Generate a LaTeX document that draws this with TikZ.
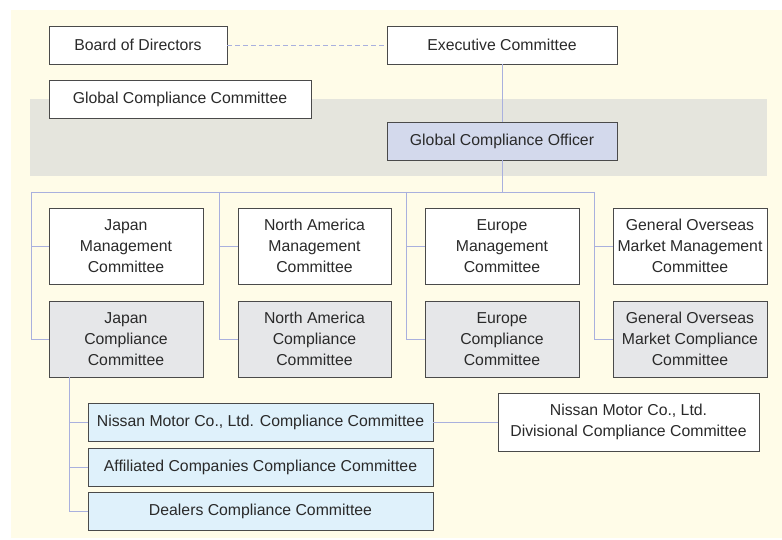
\documentclass[tikz,border=0pt]{standalone}
\usepackage{fontspec}
\setmainfont{Liberation Sans}
\definecolor{cream}{HTML}{FFFCE8}
\definecolor{band}{HTML}{E5E5DD}
\definecolor{link}{HTML}{A9B0DE}
\definecolor{officer}{HTML}{D3D9EC}
\definecolor{compl}{HTML}{E6E7E9}
\definecolor{local}{HTML}{DFF1FB}
\definecolor{edge}{HTML}{4A4A4A}
\definecolor{ink}{HTML}{2A2A2A}
\tikzset{
  box/.style={draw=edge, line width=0.9pt, fill=white, inner sep=0pt, align=center,
    text=ink, font=\fontsize{15.8}{21}\selectfont},
  wbox/.style={box, fill=white},
  gbox/.style={box, fill=compl},
  obox/.style={box, fill=officer},
  lbox/.style={box, fill=local},
  conn/.style={draw=link, line width=0.9pt},
}
\begin{document}
\begin{tikzpicture}[x=1pt,y=-1pt]
\useasboundingbox (0,0) rectangle (782,540);
\fill[white] (0,0) rectangle (782,540);
\fill[cream] (11,10) rectangle (782,538);
\fill[band] (30,99) rectangle (767,176);

\node[wbox, minimum width=178pt, minimum height=38pt] (board) at (138,45) {Board of Directors};
\node[wbox, minimum width=230pt, minimum height=38pt] (exec) at (502,45) {Executive Committee};
\node[wbox, minimum width=262pt, minimum height=38pt] (gcc) at (180,99) {Global Compliance Committee};
\node[obox, minimum width=230pt, minimum height=38pt] (gco) at (502,141) {Global Compliance Officer};

\node[wbox, minimum width=154pt, minimum height=76pt] (jm) at (126,246) {Japan\\Management\\Committee};
\node[wbox, minimum width=153pt, minimum height=76pt] (nam) at (314.5,246) {North America\\Management\\Committee};
\node[wbox, minimum width=154pt, minimum height=76pt] (em) at (502,246) {Europe\\Management\\Committee};
\node[wbox, minimum width=154pt, minimum height=76pt] (gm) at (690,246) {General Overseas\\Market Management\\Committee};

\node[gbox, minimum width=154pt, minimum height=76pt] (jc) at (126,339) {Japan\\Compliance\\Committee};
\node[gbox, minimum width=153pt, minimum height=76pt] (nac) at (314.5,339) {North America\\Compliance\\Committee};
\node[gbox, minimum width=154pt, minimum height=76pt] (ec) at (502,339) {Europe\\Compliance\\Committee};
\node[gbox, minimum width=154pt, minimum height=76pt] (gc) at (690,339) {General Overseas\\Market Compliance\\Committee};

\node[lbox, minimum width=345pt, minimum height=38pt] (nissan) at (260.5,422) {Nissan Motor Co., Ltd. Compliance Committee};
\node[lbox, minimum width=345pt, minimum height=38pt] (aff) at (260.5,467) {Affiliated Companies Compliance Committee};
\node[lbox, minimum width=345pt, minimum height=38pt] (deal) at (260.5,511.5) {Dealers Compliance Committee};
\node[wbox, minimum width=261pt, minimum height=58pt] (div) at (628.5,422) {Nissan Motor Co., Ltd.\\Divisional Compliance Committee};

\coordinate (b1) at (31,192);
\coordinate (b2) at (219,192);
\coordinate (b3) at (406,192);
\coordinate (b4) at (594,192);
\coordinate (jv) at (69,377);

\draw[conn, dash pattern=on 5pt off 3pt] (board.east) -- (exec.west);
\draw[conn] (exec.south) -- (gco.north);
\draw[conn] (gco.south) |- (b1);
\draw[conn] (gco.south) |- (b4);
\draw[conn] (b1) |- (jc.west);
\draw[conn] (jm.west) -- (jm.west -| b1);
\draw[conn] (b2) |- (nac.west);
\draw[conn] (nam.west) -- (nam.west -| b2);
\draw[conn] (b3) |- (ec.west);
\draw[conn] (em.west) -- (em.west -| b3);
\draw[conn] (b4) |- (gc.west);
\draw[conn] (gm.west) -- (gm.west -| b4);
\draw[conn] (jv) |- (deal.west);
\draw[conn] (nissan.west) -- (nissan.west -| jv);
\draw[conn] (aff.west) -- (aff.west -| jv);
\draw[conn] (nissan.east) -- (div.west);
\end{tikzpicture}
\end{document}
